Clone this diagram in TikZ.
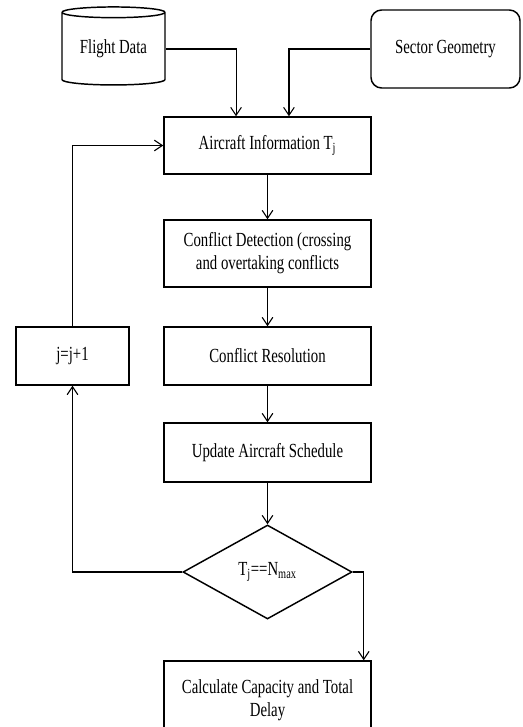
\documentclass[tikz,border=0pt]{standalone}
\usepackage{fontspec}
\setmainfont{Liberation Serif}[FakeStretch=0.74]
\usetikzlibrary{shapes.geometric,arrows.meta}

\begin{document}
\begin{tikzpicture}[x=0.75pt,y=-0.75pt,
  box/.style={draw, line width=1.1pt, minimum width=155.25pt, inner sep=0pt, align=center},
  arr/.style={-{Straight Barb[length=6pt,width=8pt]}, line width=0.8pt}]

  \fontsize{15}{17.25}\selectfont
  \useasboundingbox (0,0) rectangle (522,727);

  %% inputs
  \node[draw, line width=1.1pt, cylinder, shape border rotate=90, aspect=0.16,
        minimum width=77.25pt, minimum height=58.5pt, inner sep=0pt] (flight) at (113.5,49) {Flight Data};
  \node[draw, line width=1.1pt, rounded corners=8pt,
        minimum width=111.75pt, minimum height=58.5pt] (sector) at (445.5,49) {Sector Geometry};

  %% main column
  \node[box, minimum height=42.75pt] (info) at (267.5,145.5) {Aircraft Information T\textsubscript{j}};
  \node[box, minimum height=50.25pt] (detect) at (267.5,253.5) {Conflict Detection (crossing\\and overtaking conflicts};
  \node[box, minimum height=43.5pt] (resolve) at (267.5,356) {Conflict Resolution};
  \node[box, minimum height=44.25pt] (update) at (267.5,452.5) {Update Aircraft Schedule};
  \node[draw, diamond, line width=1.1pt, minimum width=126.75pt, minimum height=70.5pt,
        inner sep=0pt] (check) at (267.5,572) {T\textsubscript{j}==N\textsubscript{max}};
  \node[box, minimum height=58.5pt] (calc) at (267.5,700) {Calculate Capacity and Total\\Delay};

  %% loop counter
  \node[box, minimum width=84.75pt, minimum height=43.5pt] (incr) at (72.5,356) {j=j+1};

  \draw[arr] (flight.east) -| ([xshift=-23.6pt]info.north);  %% flight -> info
  \draw[arr] (sector.west) -| ([xshift=16.1pt]info.north);   %% sector -> info
  \draw[arr] (info.south) -- (detect.north);
  \draw[arr] (detect.south) -- (resolve.north);
  \draw[arr] (resolve.south) -- (update.north);
  \draw[arr] (update.south) -- (check.north);
  \draw[arr] (check.west) -| (incr.south);                   %% not done
  \draw[arr] (incr.north) |- (info.west);
  \draw[arr] (check.east) -| ([xshift=-6pt]calc.north east); %% done
\end{tikzpicture}
\end{document}
